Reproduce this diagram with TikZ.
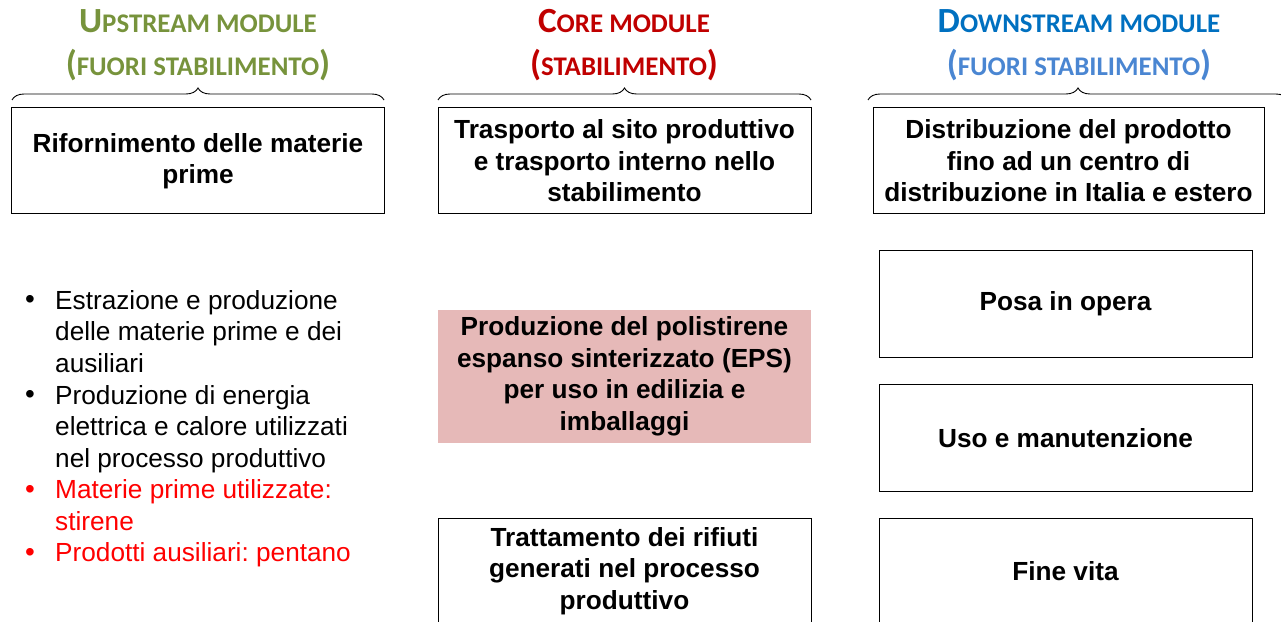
\documentclass[tikz,border=0pt]{standalone}
\usepackage{fontspec}
\setmainfont{Liberation Sans}
\newfontfamily\hdrfont{Carlito}
\usetikzlibrary{decorations.pathreplacing}
\definecolor{upg}{HTML}{77933C}
\definecolor{corer}{HTML}{C00000}
\definecolor{downb}{HTML}{0070C0}
\definecolor{downl}{HTML}{4A86D2}
\definecolor{epsfill}{HTML}{E6B9B8}
\definecolor{bulred}{HTML}{FF0000}
\newcommand\BigC[1]{{\fontsize{35.5}{40}\selectfont #1}}
\newcommand\SmC[1]{{\fontsize{27}{40}\selectfont #1}}
\frenchspacing
\begin{document}
\begin{tikzpicture}[x=1bp,y=-1bp,
  boxst/.style={draw, line width=1bp, minimum height=106bp, inner sep=0pt,
    align=center, font=\bfseries\fontsize{26.3}{31.6}\selectfont},
  hd/.style={anchor=base, font=\hdrfont\bfseries, inner sep=0pt},
  brc/.style={decorate, decoration={brace, amplitude=12bp}, line width=0.9bp},
  itm/.style={anchor=base west, align=left, inner sep=0pt, font=\fontsize{26.3}{31.6}\selectfont},
  bul/.style={anchor=base, inner sep=0pt, font=\fontsize{28}{31.6}\selectfont}]
\useasboundingbox (0,0) rectangle (1281,622);

% headers
\node[hd, text=upg] (uph1) at (198,33) {\BigC{U}\SmC{PSTREAM MODULE}};
\node[hd, text=upg] (uph2) at (198,76) {\BigC{(}\SmC{FUORI STABILIMENTO}\BigC{)}};
\node[hd, text=corer] (coh1) at (624,33) {\BigC{C}\SmC{ORE MODULE}};
\node[hd, text=corer] (coh2) at (624,76) {\BigC{(}\SmC{STABILIMENTO}\BigC{)}};
\node[hd, text=downb] (dwh1) at (1079,33) {\BigC{D}\SmC{OWNSTREAM MODULE}};
\node[hd, text=downl] (dwh2) at (1079,76) {\BigC{(}\SmC{FUORI STABILIMENTO}\BigC{)}};

% braces
\draw[brc] (12,100) -- (384,100);
\draw[brc] (438,100) -- (811,100);
\draw[brc] (868,100) -- (1288,100);

% top boxes
\node[boxst, minimum width=372bp] (up1) at (198,161) {Rifornimento delle materie\\prime};
\node[boxst, minimum width=373bp] (core1) at (624.5,161) {Trasporto al sito produttivo\\e trasporto interno nello\\stabilimento};
\node[boxst, minimum width=391bp] (down1) at (1068.5,161) {Distribuzione del prodotto\\fino ad un centro di\\distribuzione in Italia e estero};

% downstream boxes
\node[boxst, minimum width=373bp] (posa) at (1065.5,304) {Posa in opera};
\node[boxst, minimum width=373bp] (uso) at (1065.5,438) {Uso e manutenzione};
\node[boxst, minimum width=373bp] (fine) at (1065.5,571) {Fine vita};

% core boxes
\node[boxst, draw=none, fill=epsfill, minimum width=373bp, minimum height=133bp] (eps) at (624.5,376.5)
  {Produzione del polistirene\\espanso sinterizzato (EPS)\\per uso in edilizia e\\imballaggi};
\node[boxst, minimum width=373bp] (tratt) at (624.5,571) {Trattamento dei rifiuti\\generati nel processo\\produttivo};

% bullet list (base anchor = baseline of the last line)
\node[bul] (b1) at (30,309) {\textbullet};
\node[itm] (i1) at (55,372.2) {Estrazione e produzione\\delle materie prime e dei\\ausiliari};
\node[bul] (b2) at (30,403.8) {\textbullet};
\node[itm] (i2) at (55,467) {Produzione di energia\\elettrica e calore utilizzati\\nel processo produttivo};
\node[bul, text=bulred] (b3) at (30,498.6) {\textbullet};
\node[itm, text=bulred] (i3) at (55,530.2) {Materie prime utilizzate:\\stirene};
\node[bul, text=bulred] (b4) at (30,561.8) {\textbullet};
\node[itm, text=bulred] (i4) at (55,561.8) {Prodotti ausiliari: pentano};
\end{tikzpicture}
\end{document}
